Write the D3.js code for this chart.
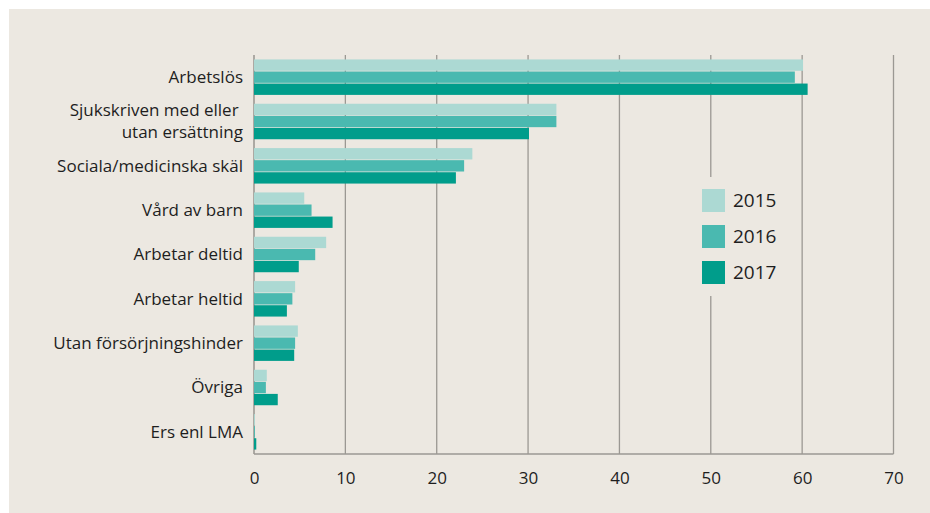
<!DOCTYPE html>
<html>
<head>
<meta charset="utf-8">
<script src="https://cdn.jsdelivr.net/npm/d3@7"></script>
<style>
  html, body { margin: 0; padding: 0; background: #ffffff; }
  svg { display: block; }
  text { font-family: "Open Sans", Lato, sans-serif; fill: #1e1e1e; }
</style>
</head>
<body>
<svg id="chart" width="930" height="513"></svg>
<script>
// Orsaker (andel, %) per år
const categories = [
  "Arbetslös",
  "Sjukskriven med eller \nutan ersättning",
  "Sociala/medicinska skäl",
  "Vård av barn",
  "Arbetar deltid",
  "Arbetar heltid",
  "Utan försörjningshinder",
  "Övriga",
  "Ers enl LMA"
];
const years = ["2015", "2016", "2017"];
const values2015 = [60.1, 33.1, 23.9, 5.5, 7.9, 4.5, 4.8, 1.4, 0.1];
const values2016 = [59.2, 33.1, 23.0, 6.3, 6.7, 4.2, 4.5, 1.3, 0.1];
const values2017 = [60.6, 30.1, 22.1, 8.6, 4.9, 3.6, 4.4, 2.6, 0.25];
const xTicks = [0, 10, 20, 30, 40, 50, 60, 70];
const colors = ["#acd9d3", "#4ab9b0", "#009d8b"];

const series = [values2015, values2016, values2017];

const svg = d3.select("#chart");

// background panel
svg.append("rect")
  .attr("x", 9).attr("y", 9).attr("width", 921).attr("height", 504)
  .attr("fill", "#ece8e1");

const plot = { left: 254, right: 893.5, top: 55, bottom: 454 };

const x = d3.scaleLinear().domain([0, 70]).range([plot.left, plot.right]);
const y = d3.scaleBand().domain(categories)
  .range([plot.top, plot.bottom]).paddingInner(0.2).paddingOuter(0.1);
const ySub = d3.scaleBand().domain(years)
  .range([0, y.bandwidth()]).paddingInner(0.06);

// vertical gridlines
svg.append("g").selectAll("line")
  .data(xTicks)
  .join("line")
  .attr("x1", d => x(d)).attr("x2", d => x(d))
  .attr("y1", plot.top).attr("y2", plot.bottom)
  .attr("stroke", d => d === 0 ? "#8a8782" : "#9b9893")
  .attr("stroke-width", 1.3);

// baseline
svg.append("line")
  .attr("x1", x(0)).attr("x2", x(70))
  .attr("y1", plot.bottom).attr("y2", plot.bottom)
  .attr("stroke", "#9b9893").attr("stroke-width", 1.3);

// bars
const groups = svg.append("g").selectAll("g")
  .data(categories)
  .join("g")
  .attr("transform", d => `translate(0,${y(d)})`);

groups.selectAll("rect")
  .data((d, i) => years.map((yr, k) => ({ yr, k, v: series[k][i] })))
  .join("rect")
  .attr("x", x(0))
  .attr("y", d => ySub(d.yr))
  .attr("width", d => x(d.v) - x(0))
  .attr("height", ySub.bandwidth())
  .attr("fill", d => colors[d.k]);

// category labels, one text element per line
const lineHeight = 22;
const labelLines = categories.flatMap(c => {
  const parts = c.split("\n");
  return parts.map((ln, i) => ({ c, ln, off: (i - (parts.length - 1) / 2) * lineHeight }));
});
svg.append("g").selectAll("text")
  .data(labelLines)
  .join("text")
  .attr("text-anchor", "end")
  .attr("font-size", 17)
  .style("white-space", "pre")
  .attr("x", 243)
  .attr("y", d => y(d.c) + y.bandwidth() / 2 + d.off)
  .attr("dy", "0.35em")
  .text(d => d.ln);

// x axis tick labels
const xAxis = d3.axisBottom(x).tickValues(xTicks).tickSize(0).tickPadding(18)
  .tickFormat(d3.format("d"));
const gx = svg.append("g")
  .attr("transform", `translate(0,${plot.bottom})`)
  .call(xAxis);
gx.select(".domain").remove();
gx.selectAll("text")
  .attr("font-size", 17)
  .attr("font-family", "Lato, 'Open Sans', sans-serif")
  .attr("fill", "#1e1e1e");

// legend
const legend = svg.append("g");
legend.append("rect")
  .attr("x", 690).attr("y", 177).attr("width", 110).attr("height", 119)
  .attr("fill", "#ece8e1");
const items = legend.selectAll("g.item")
  .data(years)
  .join("g")
  .attr("class", "item")
  .attr("transform", (d, i) => `translate(702,${189 + i * 36})`);
items.append("rect")
  .attr("width", 23).attr("height", 23)
  .attr("fill", (d, i) => colors[i]);
items.append("text")
  .attr("x", 31).attr("y", 11.5).attr("dy", "0.36em")
  .attr("font-size", 19)
  .attr("font-family", "Lato, 'Open Sans', sans-serif")
  .text(d => d);
</script>
</body>
</html>
